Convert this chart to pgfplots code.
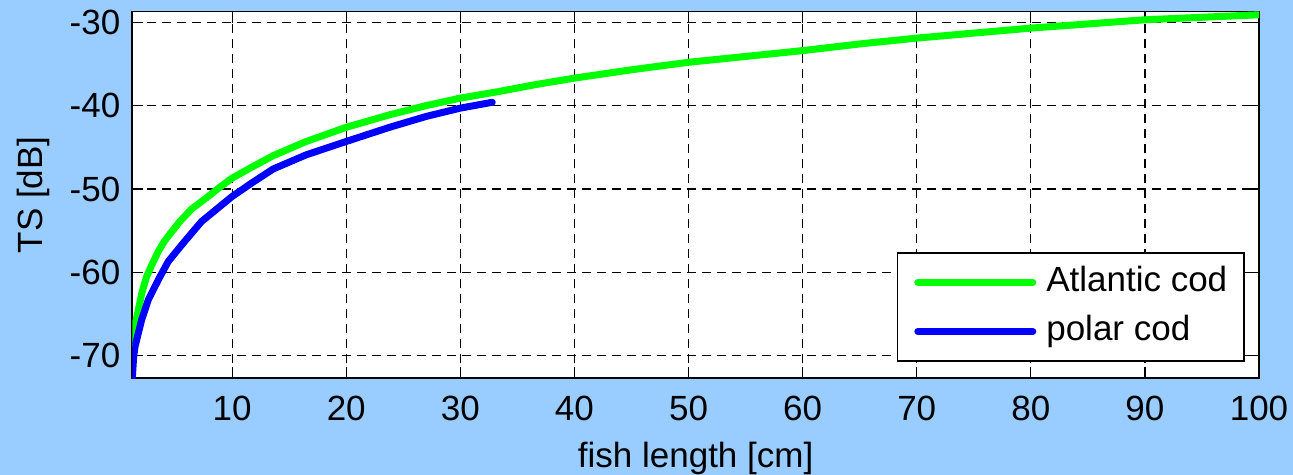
\documentclass[border=0pt]{standalone}
\usepackage{fontspec}
\setmainfont{Liberation Sans}
\usepackage{pgfplots}
\pgfplotsset{compat=1.18}
\usetikzlibrary{backgrounds}
\definecolor{bgblue}{RGB}{153,204,255}
\definecolor{cgreen}{RGB}{0,255,0}
\definecolor{cblue}{RGB}{0,0,255}
\begin{document}
\fontsize{17.5}{21}\selectfont
\begin{tikzpicture}
\begin{axis}[
  scale only axis, width=563.4pt, height=183.3pt,
  xmin=1.25, xmax=100, ymin=-72.71, ymax=-28.73,
  xtick={10,20,...,100}, ytick={-70,-60,...,-30},
  axis background/.style={fill=white},
  axis line style={line width=0.8pt, black},
  tick align=inside, major tick length=5.5pt,
  tick style={black, line width=0.6pt},
  grid=major,
  major grid style={black, line width=0.6pt, dash pattern=on 4.5pt off 3pt},
  /pgf/number format/assume math mode=true,
  xticklabel style={yshift=-2.7pt, inner xsep=0pt},
  yticklabel style={inner ysep=0pt},
  xlabel={fish length [cm]}, ylabel={TS [dB]},
  xlabel style={at={(axis description cs:0.5,-0.2174)}, anchor=center, inner sep=0pt},
  ylabel style={at={(axis description cs:-0.0881,0.5)}, anchor=center, inner sep=0pt},
  legend style={at={(rel axis cs:0.9876,0.0453)}, anchor=south east,
    draw=black, line width=0.8pt, fill=white,
    inner xsep=8.5pt, inner ysep=6.5pt, row sep=8pt,
    nodes={inner sep=0pt, text height=12.8pt, text depth=3.7pt},
    column sep=5pt},
  legend cell align=left,
  legend image code/.code={\draw[#1] (0pt,0pt) -- (57.5pt,0pt);},
]
\addplot[cgreen, line width=3.5pt, line cap=round, line join=round] coordinates {
(1.25,-68.5) (1.5,-66.3) (1.78,-64.5) (2.1,-62.4) (2.51,-60.5) (3.0,-59.0)
(3.53,-57.5) (4.0,-56.4) (4.55,-55.4) (5.42,-53.9) (6.45,-52.4) (7.9,-50.9)
(9.0,-49.7) (10,-48.7) (11.7,-47.4) (13.6,-46.0) (16.5,-44.3) (20,-42.6)
(23.8,-41.1) (27,-40.0) (30,-39.1) (33.4,-38.3) (36.5,-37.5) (40,-36.7)
(45,-35.7) (50,-34.8) (55,-34.1) (60,-33.4) (65,-32.6) (70,-31.9)
(75,-31.3) (80,-30.7) (85,-30.2) (90,-29.7) (95,-29.4) (100,-29.1)
};
\addlegendentry{Atlantic cod}
\addplot[cblue, line width=3.5pt, line cap=round, line join=round] coordinates {
(1.25,-72.7) (1.37,-70.1) (1.49,-68.9) (2.07,-65.7) (2.65,-63.3) (3.53,-60.9)
(4.40,-58.7) (5.71,-56.5) (7.32,-53.9) (10,-50.9) (10.96,-50.0) (11.7,-49.3)
(13.6,-47.6) (16.5,-45.9) (20,-44.3) (23.8,-42.6) (27,-41.3) (30,-40.3)
(32.8,-39.6)
};
\addlegendentry{polar cod}
\end{axis}
\begin{scope}[on background layer]
\fill[bgblue] ([xshift=-66.15pt,yshift=-48.35pt]current axis.south west)
  rectangle ([xshift=17pt,yshift=5.85pt]current axis.north east);
\end{scope}
\end{tikzpicture}
\end{document}
